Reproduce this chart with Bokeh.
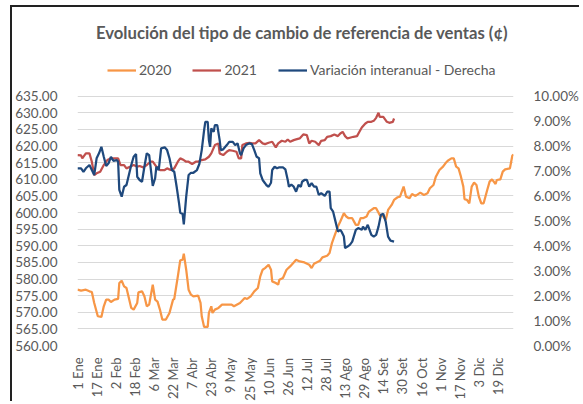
import math
from bokeh.plotting import figure
from bokeh.models import (Range1d, LinearAxis, FixedTicker, NumeralTickFormatter,
                          PrintfTickFormatter, Label, Legend, LegendItem)
from bokeh.embed import file_html
from bokeh.resources import INLINE

FONT = "Lato"
GRAY = "#595959"

title_text = "Evolución del tipo de cambio de referencia de ventas (¢)"
series_names = ["2020", "2021", "Variación interanual - Derecha"]

tick_days = [0, 16, 32, 48, 64, 80, 96, 112, 128, 144, 160, 176, 192, 208, 224, 240,
             256, 272, 288, 304, 320, 336, 352]
tick_labels = ["1 Ene", "17 Ene", "2 Feb", "18 Feb", "6 Mar", "22 Mar", "7 Abr", "23 Abr",
               "9 May", "25 May", "10 Jun", "26 Jun", "12 Jul", "28 Jul", "13 Ago", "29 Ago",
               "14 Set", "30 Set", "16 Oct", "1 Nov", "17 Nov", "3 Dic", "19 Dic"]

left_ticks = [560, 565, 570, 575, 580, 585, 590, 595, 600, 605, 610, 615, 620, 625, 630, 635]
right_ticks = [0, 1, 2, 3, 4, 5, 6, 7, 8, 9, 10]

# 2020 (left axis)
days_2020 = [0, 3, 7, 10, 12, 14, 17, 20, 22, 24, 26, 28, 31, 34, 35, 37, 39, 41, 43, 45,
             47, 50, 51, 54, 56, 58, 60, 63, 65, 67, 69, 71, 74, 77, 80, 81, 84, 86, 88, 89,
             91, 93, 95, 97, 101, 103, 104, 106, 109, 110, 112, 113, 115, 118, 121, 125, 129,
             131, 136, 140, 142, 145, 148, 151, 153, 155, 157, 160, 162, 163, 166, 168, 169,
             172, 175, 178, 181, 183, 186, 190, 194, 196, 198, 203, 205, 209, 211, 213, 215,
             218, 220, 223, 225, 227, 230, 233, 235, 237, 239, 242, 244, 248, 250, 253, 256,
             258, 260, 263, 265, 268, 270, 273, 275, 278, 280, 283, 287, 290, 293, 295, 298,
             300, 303, 306, 308, 310, 313, 315, 317, 319, 321, 323, 324, 326, 328, 330, 332,
             334, 336, 338, 340, 343, 345, 347, 350, 351, 354, 356, 358, 362, 364, 365]
vals_2020 = [576.8, 576.5, 576.8, 576.3, 576.1, 572.8, 568.8, 568.6, 571.8, 573.8, 573.8,
             573.1, 573.8, 574.0, 578.8, 579.5, 577.8, 577.3, 574.3, 571.3, 570.8, 572.8,
             576.0, 576.3, 574.8, 571.8, 572.3, 578.3, 573.8, 573.2, 570.8, 567.8, 567.8,
             569.8, 573.8, 574.0, 580.8, 585.6, 585.8, 587.6,
             582.8, 576.8, 575.3, 574.8, 575.0, 572.8, 568.8, 565.6, 565.6, 569.8, 571.8,
             569.8, 570.8, 571.3, 572.3, 572.3, 572.3, 571.8, 572.8, 574.3, 574.0, 574.8,
             576.3, 577.3, 580.8, 582.8, 583.3, 584.3, 582.8, 579.3, 578.8, 578.3, 579.8,
             580.3, 582.8, 583.8, 585.0, 585.8, 585.3, 585.0, 584.3, 583.3, 584.6, 585.5,
             586.5, 587.0, 587.8, 590.8, 592.8, 595.8, 597.3, 599.8, 598.8, 598.3, 598.3,
             596.3, 596.3, 598.3, 598.3, 598.8, 600.3, 601.3, 601.3, 599.3, 598.8, 597.8,
             600.8, 602.3, 603.8, 604.6, 604.8, 607.8, 604.8, 604.3, 605.6, 605.0, 606.0,
             605.3, 605.8, 607.3, 608.3, 610.8, 612.8, 613.8, 614.8, 615.6, 616.3, 616.3,
             613.8, 613.3, 610.8, 607.8, 604.0, 603.8, 602.8, 607.8, 609.0, 608.3, 604.8,
             602.8, 602.8, 606.8, 609.3, 610.0, 608.6, 609.8, 610.0, 612.3, 613.0, 613.3,
             617.1, 617.5]

# 2021 (left axis)
days_2021 = [0, 3, 4, 7, 10, 12, 14, 16, 19, 22, 25, 28, 32, 34, 36, 39, 41, 44, 47, 50,
             52, 55, 58, 61, 63, 66, 69, 73, 75, 78, 81, 84, 86, 89, 91, 93, 96, 99, 101,
             104, 107, 110, 112, 115, 118, 119, 122, 125, 127, 130, 133, 135, 137, 138, 141,
             144, 146, 149, 152, 155, 157, 160, 163, 166, 168, 171, 174, 176, 178, 181, 183,
             186, 189, 192, 194, 196, 199, 202, 204, 207, 209, 212, 215, 218, 220, 222, 224,
             226, 228, 231, 234, 236, 238, 241, 243, 246, 248, 250, 252, 253, 256, 259, 261,
             264, 265]
vals_2021 = [617.3, 617.2, 616.3, 617.8, 617.8, 615.3, 611.3, 611.8, 612.3, 614.3, 615.8,
             616.3, 616.3, 616.3, 614.3, 614.3, 613.3, 613.8, 614.3, 613.8, 614.0, 613.6,
             614.3, 615.3, 615.3, 613.8, 612.8, 612.8, 613.3, 612.8, 613.3, 615.3, 616.3,
             615.8, 615.3, 615.3, 614.6, 615.3, 615.3, 615.8, 616.0, 616.8, 617.8, 620.3,
             620.8, 617.8, 617.3, 618.3, 618.8, 618.6, 618.3, 616.3, 616.3, 620.3, 620.8,
             621.0, 620.8, 620.8, 621.8, 620.8, 620.6, 621.0, 621.3, 619.6, 620.8, 621.6,
             621.3, 622.0, 621.3, 621.8, 622.0, 622.3, 623.5, 623.3, 620.8, 621.6, 621.3,
             620.3, 621.6, 621.8, 622.8, 623.0, 623.5, 623.0, 623.8, 624.3, 623.0, 622.3,
             622.5, 622.8, 623.0, 624.3, 625.6, 626.8, 627.3, 627.3, 627.6, 628.5, 630.0,
             628.8, 628.8, 627.3, 627.0, 627.3, 628.3]

# Variación interanual (right axis, %)
days_var = [0, 3, 5, 7, 10, 12, 14, 16, 18, 20, 22, 24, 26, 28, 30, 33, 34, 35, 37, 39, 41,
            43, 45, 47, 49, 50, 52, 54, 56, 58, 60, 61, 63, 65, 66, 68, 70, 73, 75, 77, 79,
            81, 83, 85, 86, 88, 89, 91, 93, 95, 97, 100, 102, 104, 106, 107, 109, 110, 111,
            112, 114, 115, 117, 119, 120, 122, 125, 127, 130, 132, 134, 136, 137, 139, 141,
            144, 146, 148, 150, 152, 153, 155, 157, 158, 160, 162, 163, 165, 167, 169, 172,
            174, 176, 177, 179, 181, 183, 185, 187, 188, 190, 192, 194, 196, 198, 200, 202,
            204, 207, 209, 211, 212, 214, 216, 218, 220, 221, 223, 224, 226, 228, 230, 233,
            235, 238, 239, 241, 243, 246, 248, 250, 252, 254, 256, 258, 260, 262, 265]
vals_var = [7.11, 7.11, 6.97, 7.11, 7.24, 7.04, 6.84, 7.51, 7.71, 7.97, 7.57, 7.20, 7.31,
            7.57, 7.41, 7.44, 7.37, 6.24, 5.97, 6.37, 6.44, 6.84, 7.24, 7.57, 7.68, 6.77,
            6.64, 6.57, 7.17, 7.71, 7.64, 7.24, 6.40, 6.71, 7.17, 7.04, 7.91, 7.95, 7.84,
            7.51, 7.04, 6.97, 6.37, 5.71, 5.33, 5.28, 4.86, 5.97, 6.84, 6.93, 6.93, 7.04,
            7.28, 7.84, 8.64, 8.97, 8.97, 8.24, 7.97, 8.71, 8.57, 8.84, 8.84, 8.24, 7.84,
            7.87, 8.04, 8.17, 8.17, 8.04, 8.11, 7.71, 7.64, 7.91, 8.04, 8.11, 8.08, 7.84,
            7.57, 7.51, 6.91, 6.64, 6.51, 6.44, 6.37, 6.53, 7.04, 7.17, 7.11, 7.15, 7.15,
            7.07, 6.64, 6.37, 6.45, 6.37, 6.17, 6.44, 6.37, 6.57, 6.64, 6.64, 6.37, 6.51,
            6.37, 6.37, 6.04, 6.11, 6.00, 6.17, 6.17, 5.51, 5.37, 4.97, 4.57, 4.64, 4.57,
            4.37, 3.91, 3.97, 4.04, 4.17, 4.64, 4.71, 4.64, 4.77, 4.64, 4.84, 4.44, 4.37,
            4.44, 4.77, 5.24, 5.28, 4.97, 4.37, 4.21, 4.17]

C2020 = "#F79646"
C2021 = "#C0504D"
CVAR = "#1F497D"

# layout numbers (pixels)
W, H = 569, 396
ML, MR, MB = 65, 60, 57
frame_h = H - MB                      # frame runs from the very top of the canvas
px_per_unit = 250 / 75.0              # 75 units of the left axis span 250 px
left_top = 560 + frame_h / px_per_unit
right_top = frame_h / 25.0            # 10 % span 250 px

p = figure(width=W, height=H, output_backend="svg", toolbar_location=None,
           x_range=Range1d(0, 365), y_range=Range1d(560, left_top),
           min_border_left=ML, min_border_right=MR, min_border_top=0, min_border_bottom=MB,
           background_fill_color="white", border_fill_color="white")
p.styles = {"margin-left": "10px", "margin-top": "5px",
            "border-left": "2px solid #222222", "border-top": "2px solid #222222"}
p.outline_line_color = None
p.extra_y_ranges = {"pct": Range1d(0, right_top)}

p.yaxis.ticker = FixedTicker(ticks=left_ticks)
p.yaxis.formatter = NumeralTickFormatter(format="0.00")
p.ygrid.ticker = FixedTicker(ticks=left_ticks)
p.ygrid.grid_line_color = "#D9D9D9"
p.ygrid.grid_line_width = 1
p.xgrid.visible = False

p.xaxis.ticker = FixedTicker(ticks=tick_days)
p.xaxis.major_label_overrides = {d: lab for d, lab in zip(tick_days, tick_labels)}
p.xaxis.major_label_orientation = math.pi / 2

right = LinearAxis(y_range_name="pct", ticker=FixedTicker(ticks=right_ticks),
                   formatter=PrintfTickFormatter(format="%.2f%%"))
p.add_layout(right, "right")

for ax in [p.xaxis[0], p.yaxis[0], right]:
    ax.axis_line_color = None
    ax.major_tick_line_color = None
    ax.minor_tick_line_color = None
    ax.major_label_text_font = FONT
    ax.major_label_text_font_size = "13.5px"
    ax.major_label_text_color = GRAY
p.xaxis[0].major_label_text_font_size = "13px"
p.yaxis[0].major_label_standoff = 14
right.major_label_standoff = 14
p.xaxis[0].major_label_standoff = 6

r1 = p.line(days_2020, vals_2020, line_color=C2020, line_width=2.25)
r2 = p.line(days_2021, vals_2021, line_color=C2021, line_width=2.25)
r3 = p.line(days_var, vals_var, line_color=CVAR, line_width=2.25, y_range_name="pct")

title = Label(x=224.5, y=frame_h - 26, x_units="screen", y_units="screen", text=title_text,
              text_font=FONT, text_font_size="16.7px", text_font_style="bold",
              text_color=GRAY, text_align="center", text_baseline="middle")
p.add_layout(title)

legend = Legend(items=[LegendItem(label=series_names[0], renderers=[r1]),
                       LegendItem(label=series_names[1], renderers=[r2]),
                       LegendItem(label=series_names[2], renderers=[r3])],
                location=(30, frame_h - 72), orientation="horizontal",
                glyph_width=29, glyph_height=14, label_height=14, label_standoff=3,
                spacing=21, padding=0, margin=0,
                border_line_color=None, background_fill_alpha=0,
                label_text_font=FONT, label_text_font_size="14px", label_text_color=GRAY)
p.add_layout(legend)

open("out.html", "w").write(file_html(p, INLINE))
